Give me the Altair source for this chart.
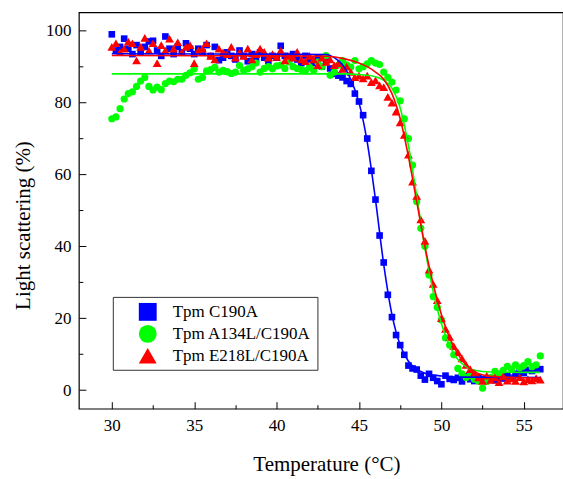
import altair as alt
import pandas as pd

FONT = "Liberation Serif"

SERIES = ["Tpm C190A", "Tpm A134L/C190A", "Tpm E218L/C190A"]
COLORS = ["#0000ff", "#00ff00", "#ff0000"]
SHAPES = ["square", "circle", "triangle-up"]
POINT_SIZES = [44, 52, 78]

# measurement grid (°C)
TEMPS = [round(30 + 0.25 * i, 2) for i in range(105)]

BLUE = [
    99.0, 94.5, 95.5, 97.8, 95.0, 93.5, 96.0, 94.0, 95.5, 97.0,
    97.2, 94.5, 93.0, 98.4, 95.0, 93.5, 95.5, 94.0, 96.5, 95.0,
    93.5, 95.0, 94.0, 96.0, 93.0, 95.5, 91.8, 92.5, 94.0, 93.0,
    92.0, 94.5, 93.0, 91.5, 93.5, 92.0, 94.0, 92.5, 91.5, 93.0,
    92.5, 95.8, 93.0, 92.0, 93.5, 92.0, 91.0, 93.0, 92.0, 91.0,
    92.5, 90.0, 91.5, 89.5, 88.0, 87.5, 87.0, 86.0, 85.2, 82.5,
    80.3, 76.5, 70.0, 61.0, 53.0, 43.0, 35.5, 26.5, 20.3, 15.3,
    12.5, 9.8, 6.8, 6.0, 5.7, 4.0, 2.9, 4.5, 3.4, 2.5,
    1.6, 4.0, 3.1, 2.8, 3.4, 2.4, 3.8, 3.0, 2.5, 3.5,
    3.0, 2.8, 3.3, 2.7, 3.6, 3.2, 4.0, 3.4, 4.5, 5.0,
    4.8, 5.6, 5.3, 5.7, 5.8,
]
GREEN = [
    75.5, 76.0, 78.3, 81.0, 82.5, 83.0, 84.5, 86.0, 87.0, 84.5,
    83.5, 84.3, 83.6, 85.3, 86.0, 85.8, 86.5, 86.5, 87.6, 88.3,
    89.4, 86.5, 87.0, 88.8, 89.2, 89.8, 88.5, 89.0, 88.6, 88.1,
    88.5, 90.3, 89.0, 89.4, 90.0, 91.0, 88.5, 89.5, 90.0, 89.4,
    90.2, 90.4, 89.5, 91.3, 90.0, 89.5, 89.2, 88.8, 89.9, 89.0,
    91.3, 90.0, 93.1, 87.6, 88.5, 90.4, 91.7, 90.5, 89.9, 91.7,
    89.4, 90.0, 90.8, 91.7, 91.0, 90.6, 88.5, 87.0, 85.7, 83.5,
    80.5, 75.5, 70.0, 62.6, 52.5, 45.0, 40.0, 32.0, 26.0, 23.0,
    19.5, 14.5, 12.5, 9.8, 6.0, 4.5, 3.5, 4.0, 3.0, 2.5,
    0.5, 2.4, 3.5, 5.2, 4.5, 5.5, 6.6, 5.8, 7.0, 6.2,
    6.8, 7.9, 6.5, 7.0, 9.5,
]
RED = [
    95.5, 96.5, 94.0, 95.0, 97.0, 96.5, 91.7, 95.5, 98.0, 94.5,
    96.5, 91.0, 96.0, 94.5, 97.8, 95.0, 96.8, 94.0, 95.5, 96.0,
    91.0, 94.5, 95.0, 96.5, 93.0, 92.0, 95.0, 94.0, 93.5, 95.5,
    92.5, 94.0, 93.0, 95.0, 92.0, 93.5, 95.0, 94.1, 92.5, 93.5,
    92.7, 94.5, 91.7, 93.0, 92.5, 94.1, 92.0, 91.5, 93.0, 92.0,
    90.4, 92.5, 91.3, 92.0, 90.4, 91.0, 89.4, 90.0, 88.5, 87.1,
    87.5, 86.7, 87.5, 85.7, 86.2, 84.8, 84.3, 81.6, 80.0, 77.5,
    74.5, 71.0, 65.5, 58.0, 54.0, 47.5, 41.5, 33.5, 29.5, 25.0,
    20.0, 17.0, 14.8, 12.2, 10.5, 8.8, 7.0, 5.8, 4.8, 3.5,
    2.5, 4.0, 2.8, 3.5, 2.2, 3.8, 2.6, 3.2, 2.5, 3.6,
    2.4, 3.0, 2.7, 3.3, 2.9,
]

# fitted curves (knots)
BLUE_FIT_T = [30, 43, 43.5, 44, 44.5, 45, 45.5, 46, 46.5, 47, 47.5, 48, 48.5, 49, 50, 51, 56]
BLUE_FIT_V = [93.6, 93.4, 92.5, 90.5, 86.5, 80, 69, 53, 35, 21, 12.5, 8, 5.8, 4.7, 3.9, 3.6, 3.5]
GREEN_FIT_T = [30, 44, 45, 46, 46.5, 47, 47.5, 48, 48.5, 49, 49.5, 50, 50.5, 51, 51.5, 52, 53, 56]
GREEN_FIT_V = [88.0, 88.0, 87.8, 87.2, 86.2, 84, 78.5, 68, 54, 39.5, 27.5, 18.5, 12.3, 8.5, 6.5, 5.5, 5.0, 4.9]
RED_FIT_T = [30, 43, 44, 45, 45.5, 46, 46.5, 47, 47.5, 48, 48.5, 49, 49.5, 50, 50.5, 51, 51.5, 52, 53, 56]
RED_FIT_V = [93.1, 92.9, 92.3, 91, 90, 88.5, 86.5, 82.5, 75.5, 65, 52.5, 40, 29.5, 21, 14.5, 10, 7, 5.2, 3.8, 3.3]

X_MAJOR = [30, 35, 40, 45, 50, 55]
X_MINOR = [32.5, 37.5, 42.5, 47.5, 52.5]
Y_MAJOR = [0, 20, 40, 60, 80, 100]
Y_MINOR = [10, 30, 50, 70, 90]

assert len(BLUE) == len(GREEN) == len(RED) == len(TEMPS)

def series_df(name, vals):
    return pd.DataFrame({"series": name, "T": TEMPS, "v": vals})

blue_fit = pd.DataFrame({"T": BLUE_FIT_T, "v": BLUE_FIT_V})
green_fit = pd.DataFrame({"T": GREEN_FIT_T, "v": GREEN_FIT_V})
red_fit = pd.DataFrame({"T": RED_FIT_T, "v": RED_FIT_V})

xs = alt.Scale(domain=[28, 57.38], nice=False, zero=False)
ys = alt.Scale(domain=[-5.2, 105.1], nice=False, zero=False)
color_scale = alt.Scale(domain=SERIES, range=COLORS)
shape_scale = alt.Scale(domain=SERIES, range=SHAPES)

common = dict(grid=False, domain=False)

ax_x_lab = alt.Axis(orient="bottom", values=X_MAJOR, ticks=False, tickSize=0, labelPadding=9,
                    labelFontSize=17, labelFont=FONT, labelColor="black", labelFlush=False,
                    title="Temperature (°C)", titleFont=FONT, titleFontSize=21,
                    titleFontWeight="normal", titleColor="black", titleX=248, titleY=62,
                    titleBaseline="alphabetic", **common)
ax_x_maj = alt.Axis(orient="bottom", values=X_MAJOR, labels=False, tickSize=7, offset=-7,
                    tickColor="black", tickWidth=1, title="", **common)
ax_x_min = alt.Axis(orient="bottom", values=X_MINOR, labels=False, tickSize=4, offset=-4,
                    tickColor="black", tickWidth=1, title="", **common)

ax_y_lab = alt.Axis(orient="left", values=Y_MAJOR, ticks=False, tickSize=0, labelPadding=8,
                    labelFontSize=17, labelFont=FONT, labelColor="black", labelFlush=False,
                    title="Light scattering (%)", titleFont=FONT, titleFontSize=21,
                    titleFontWeight="normal", titleColor="black", titleX=-49.5, titleY=213,
                    titleBaseline="alphabetic", titleAngle=270, **common)
ax_y_maj = alt.Axis(orient="left", values=Y_MAJOR, labels=False, tickSize=7, offset=-7,
                    tickColor="black", tickWidth=1, title="", **common)
ax_y_min = alt.Axis(orient="left", values=Y_MINOR, labels=False, tickSize=4, offset=-4,
                    tickColor="black", tickWidth=1, title="", **common)

legend = alt.Legend(orient="none", legendX=34, legendY=285, title=None,
                    strokeColor="#333333", fillColor="white", padding=6,
                    symbolOffset=20, labelOffset=16, rowPadding=4, symbolSize=320,
                    symbolStrokeWidth=0, labelFontSize=17, labelFont=FONT,
                    labelColor="black", labelLimit=400)

def point_layer(i, vals, xaxis, yaxis):
    return alt.Chart(series_df(SERIES[i], vals)).mark_point(
        filled=True, opacity=1, strokeWidth=0, size=POINT_SIZES[i]
    ).encode(
        x=alt.X("T:Q", scale=xs, axis=xaxis),
        y=alt.Y("v:Q", scale=ys, axis=yaxis),
        color=alt.Color("series:N", scale=color_scale, legend=legend),
        shape=alt.Shape("series:N", scale=shape_scale, legend=legend),
    )

blue_pts = point_layer(0, BLUE, ax_x_lab, ax_y_lab)
green_pts = point_layer(1, GREEN, None, None)
red_pts = point_layer(2, RED, None, None)

blue_line = alt.Chart(blue_fit).mark_line(color=COLORS[0], strokeWidth=1.6, interpolate="monotone").encode(
    x=alt.X("T:Q", scale=xs, axis=ax_x_maj),
    y=alt.Y("v:Q", scale=ys, axis=ax_y_maj),
)
green_line = alt.Chart(green_fit).mark_line(color=COLORS[1], strokeWidth=1.6, interpolate="monotone").encode(
    x=alt.X("T:Q", scale=xs, axis=ax_x_min),
    y=alt.Y("v:Q", scale=ys, axis=ax_y_min),
)
red_line = alt.Chart(red_fit).mark_line(color=COLORS[2], strokeWidth=1.6, interpolate="monotone").encode(
    x=alt.X("T:Q", scale=xs, axis=None),
    y=alt.Y("v:Q", scale=ys, axis=None),
)

chart = (
    alt.layer(blue_pts, green_pts, red_pts, blue_line, green_line, red_line)
    .resolve_axis(x="independent", y="independent")
    .properties(
        width=485,
        height=397,
        autosize=alt.AutoSizeParams(type="none"),
        padding={"left": 79, "top": 12, "right": 0, "bottom": 70},
        background="white",
    )
    .configure_view(stroke="black", strokeWidth=1.2)
    .configure_axis(labelFont=FONT, titleFont=FONT)
    .configure_legend(labelFont=FONT, symbolSize=320)
)

chart.save("out.html", embed_options={"renderer": "svg", "actions": False})
